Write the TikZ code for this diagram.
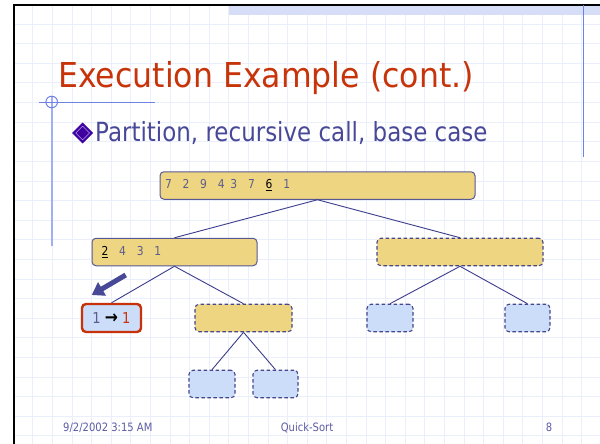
\documentclass[tikz,border=0pt]{standalone}
\usepackage{fontspec}
\setmainfont[FakeStretch=0.87]{DejaVu Sans}
\newfontfamily\headfont[FakeStretch=0.92]{DejaVu Sans}
\usetikzlibrary{shapes.geometric,arrows.meta}

\definecolor{titlered}{RGB}{200,52,10}
\definecolor{subtext}{RGB}{72,72,152}
\definecolor{boxtan}{RGB}{237,213,129}
\definecolor{boxblue}{RGB}{204,221,250}
\definecolor{boxedge}{RGB}{88,88,150}
\definecolor{dashedge}{RGB}{70,70,140}
\definecolor{edgecol}{RGB}{60,60,140}
\definecolor{digitcol}{RGB}{92,92,140}
\definecolor{basered}{RGB}{200,50,10}
\definecolor{footcol}{RGB}{92,92,165}
\definecolor{gridcol}{RGB}{235,238,251}
\definecolor{bandcol}{RGB}{214,222,247}
\definecolor{rulecol}{RGB}{110,130,230}
\definecolor{rulelight}{RGB}{160,175,245}
\definecolor{bulletfill}{RGB}{62,0,158}
\definecolor{bulletline}{RGB}{175,155,235}
\definecolor{pointercol}{RGB}{72,72,152}

\newcommand{\dgap}{\hspace{10.8pt}}
\newcommand{\ngap}{\hspace{5.8pt}}
\newcommand{\ul}[1]{\textcolor{black}{\underline{#1}}}

\tikzset{
  gridline/.style={draw=gridcol, line width=0.6pt},
  seqbox/.style={rectangle, rounded corners=4pt, minimum height=27.5pt,
    align=left, font=\fontsize{12.3}{14}\selectfont, text=digitcol, inner ysep=0pt},
  fullbox/.style={seqbox, fill=boxtan, draw=boxedge, line width=1pt},
  pendtan/.style={seqbox, fill=boxtan, draw=dashedge, line width=1.1pt,
    dash pattern=on 3.5pt off 2.5pt},
  pendblue/.style={seqbox, fill=boxblue, draw=dashedge, line width=1.1pt,
    dash pattern=on 3.5pt off 2.5pt},
  basebox/.style={rectangle, rounded corners=4pt, minimum height=28pt,
    fill=boxblue, draw=basered, line width=2.4pt,
    font=\fontsize{15}{17}\selectfont, inner sep=0pt},
  treeedge/.style={draw=edgecol, line width=0.9pt},
  pointer/.style={draw=pointercol, line width=5pt,
    -{Triangle[width=15pt,length=12pt]}},
  foot/.style={font=\fontsize{11.5}{13}\selectfont, text=footcol, inner sep=0pt}
}

\begin{document}
\begin{tikzpicture}[x=1pt,y=-1pt]
\useasboundingbox (0,0) rectangle (600,444);
\fill[white] (0,0) rectangle (600,444);

% background grid of the slide
\foreach \i in {0,...,29}
  \draw[gridline] ({32.7+19.6*\i},6) -- ({32.7+19.6*\i},444);
\foreach \j in {0,...,21}
  \draw[gridline] (15,{24+19.6*\j}) -- (600,{24+19.6*\j});

% top band and frame
\fill[bandcol] (229,6) rectangle (600,15);
\draw[black, line width=2.3pt] (13.8,444) -- (13.8,5) -- (600,5);

% blue rules
\draw[rulecol, line width=1pt] (583.3,5) -- (583.3,157);
\draw[rulelight, line width=2pt] (51.7,97) -- (51.7,246);
\draw[rulecol, line width=1pt] (39,102) -- (155,102);
\draw[rulecol, line width=1pt] (51.7,102) circle (5.8);

% title and bullet line
\node[anchor=base west, inner sep=0pt, text=titlered,
      font=\headfont\fontsize{34.3}{40}\selectfont] (title) at (58,88) {Execution Example (cont.)};
\node[diamond, fill=bulletfill, draw=bulletfill, line width=0.8pt,
      minimum width=20pt, minimum height=20pt, inner sep=0pt] (bullet) at (82.6,133) {};
\node[diamond, draw=bulletline, line width=0.5pt,
      minimum width=14pt, minimum height=14pt, inner sep=0pt] (bulletin) at (82.6,133) {};
\node[anchor=base west, inner sep=0pt, text=subtext,
      font=\fontsize{26.4}{30}\selectfont] (sub) at (95,141.7) {Partition, recursive call, base case};

% recursion tree
\node[fullbox, inner xsep=5pt, text width=305pt] (root) at (317.5,185.5)
  {7\dgap 2\dgap 9\dgap 4\ngap 3\dgap 7\dgap \ul{6}\dgap 1};
\node[fullbox, inner xsep=9.6pt, text width=145.8pt] (left) at (174.5,252)
  {\ul{2}\dgap 4\dgap 3\dgap 1};
\node[pendtan, minimum width=166pt] (right) at (460,252) {};

\node[basebox, minimum width=59pt] (base) at (111.5,318)
  {\textcolor{digitcol}{1} {\fontsize{18}{18}\selectfont\textbf{→}} \textcolor{basered}{1}};
\node[pendtan, minimum width=97pt] (lr) at (243.5,318) {};
\node[pendblue, minimum width=46pt] (rl) at (390,318) {};
\node[pendblue, minimum width=45pt] (rr) at (527.5,318) {};
\node[pendblue, minimum width=46pt] (lrl) at (212,384) {};
\node[pendblue, minimum width=45pt] (lrr) at (275.5,384) {};

\draw[treeedge] (root.south) -- (left.north);
\draw[treeedge] (root.south) -- (right.north);
\draw[treeedge] (left.south) -- (base.north);
\draw[treeedge] (left.south) -- (lr.north);
\draw[treeedge] (right.south) -- (rl.north);
\draw[treeedge] (right.south) -- (rr.north);
\draw[treeedge] (lr.south) -- (lrl.north);
\draw[treeedge] (lr.south) -- (lrr.north);

% pointer to the current call
\coordinate (ptrTail) at (125.7,275);
\coordinate (ptrTip) at (91.7,295);
\draw[pointer] (ptrTail) -- (ptrTip);

% footer
\node[foot, anchor=base west] (date) at (63,431.7) {9/2/2002 3:15 AM};
\node[foot, anchor=base] (topic) at (307,431.7) {Quick-Sort};
\node[foot, anchor=base] (page) at (549,431.7) {8};
\end{tikzpicture}
\end{document}
